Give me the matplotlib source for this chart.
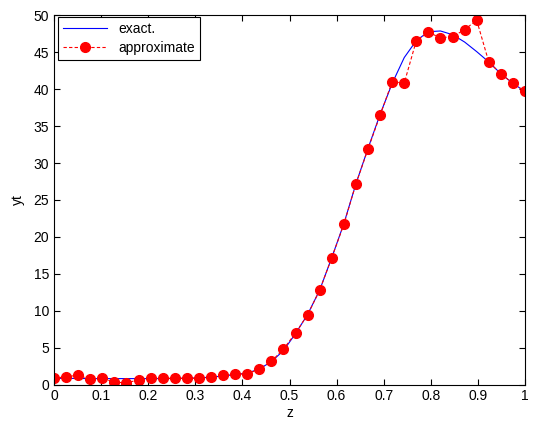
import matplotlib
matplotlib.use("Agg")
import matplotlib.pyplot as plt
import numpy as np

plt.rcParams['font.family'] = ['Liberation Sans', 'DejaVu Sans']
plt.rcParams['font.size'] = 10

# sample points in z (40 evenly spaced nodes)
z = np.linspace(0, 1, 40)

# exact solution
y_exact = [0.84, 0.83, 0.82, 0.80, 0.80, 0.80, 0.80, 0.80, 0.80, 0.80,
           0.82, 0.85, 0.90, 1.00, 1.15, 1.35, 1.55, 2.10, 3.10, 4.60,
           6.90, 9.50, 12.8, 17.2, 21.8, 27.2, 32.0, 36.6, 40.8, 44.3,
           46.6, 47.8, 47.9, 47.4, 46.4, 45.1, 43.7, 42.1, 40.8, 39.7]

# approximate solution (red markers)
y_approx = [0.84, 1.06, 1.25, 0.70, 0.84, 0.30, 0.24, 0.61, 0.84, 0.84,
            0.84, 0.84, 0.84, 0.98, 1.25, 1.42, 1.42, 2.10, 3.14, 4.80,
            6.98, 9.46, 12.8, 17.2, 21.7, 27.2, 31.9, 36.5, 41.0, 40.85,
            46.6, 47.7, 47.0, 47.1, 48.1, 49.35, 43.7, 42.1, 40.8, 39.7]

fig = plt.figure(figsize=(5.37, 4.30), dpi=100)
ax = fig.add_axes([0.1006, 0.1058, 0.8771, 0.8582])

ax.plot(z, y_exact, color='blue', lw=0.8, label='exact.')
ax.plot(z, y_approx, color='red', ls='--', dashes=(3, 2), lw=0.8, marker='o',
        markersize=7, markeredgecolor='red', markerfacecolor='red',
        label='approximate')

ax.set_xlim(0, 1)
ax.set_ylim(0, 50)
ax.set_xticks(np.arange(0, 1.01, 0.1))
ax.set_xticklabels(['0', '0.1', '0.2', '0.3', '0.4', '0.5', '0.6', '0.7', '0.8', '0.9', '1'])
ax.set_yticks(np.arange(0, 51, 5))
ax.tick_params(direction='in', top=True, right=True, length=4, width=0.8)
for s in ax.spines.values():
    s.set_linewidth(0.8)

ax.set_xlabel('z', labelpad=2)
ax.set_ylabel('yt', labelpad=6)

leg = ax.legend(loc='upper left', bbox_to_anchor=(0.0085, 0.996), borderaxespad=0,
                fancybox=False, edgecolor='black', framealpha=1,
                handlelength=3.2, labelspacing=0.35, borderpad=0.35)
leg.get_frame().set_linewidth(0.8)

fig.savefig('out.png', dpi=100)
